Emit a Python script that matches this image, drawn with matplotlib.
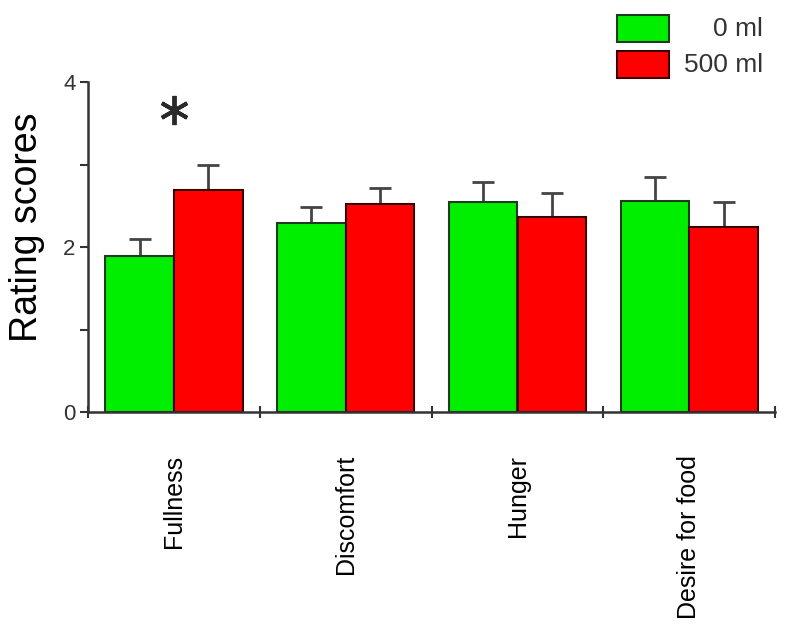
import matplotlib.pyplot as plt
from matplotlib.patches import Rectangle
import numpy as np

plt.rcParams['font.family'] = ['Liberation Sans', 'DejaVu Sans']

# data
categories = ['Fullness', 'Discomfort', 'Hunger', 'Desire for food']
vol_0 = [1.89, 2.29, 2.55, 2.56]
vol_0_err = [0.21, 0.19, 0.24, 0.29]
vol_500 = [2.69, 2.52, 2.36, 2.24]
vol_500_err = [0.30, 0.19, 0.29, 0.31]
labels = ['0 ml', '500 ml']
green = '#00ee00'
red = '#ff0000'
edges = ['#1f3a1f', '#3a0000']

fig = plt.figure(figsize=(8, 6.36), dpi=100)
ax = fig.add_axes([0.11, 0.352, 0.859, 0.519])

x = np.arange(len(categories)) + 0.5
w = 0.4
ax.bar(x - w / 2, vol_0, w, color=green, edgecolor=edges[0], linewidth=1.5, zorder=2)
ax.bar(x + w / 2, vol_500, w, color=red, edgecolor=edges[1], linewidth=1.5, zorder=2)
ax.errorbar(x - w / 2, vol_0, yerr=[np.zeros(4), vol_0_err], fmt='none',
            ecolor='#444444', elinewidth=2, capsize=8, capthick=2, zorder=1)
ax.errorbar(x + w / 2, vol_500, yerr=[np.zeros(4), vol_500_err], fmt='none',
            ecolor='#444444', elinewidth=2, capsize=8, capthick=2, zorder=1)

# significance mark above the Fullness pair
ax.plot(x[0], vol_500[0] + vol_500_err[0] + 0.67, marker=(6, 2, 0), markersize=21,
        markeredgewidth=2.8, color='#2a2a2a', clip_on=False)

ax.set_xlim(0, 4)
ax.set_ylim(0, 4)
for s in ['top', 'right']:
    ax.spines[s].set_visible(False)
for s in ['left', 'bottom']:
    ax.spines[s].set_linewidth(1.8)
    ax.spines[s].set_color('#333333')

ax.set_yticks([0, 2, 4])
ax.set_yticks([1, 3], minor=True)
ax.tick_params(axis='y', which='both', direction='out', length=6, width=1.5,
               color='#333333', labelsize=16, pad=3, labelcolor='#333333')

ax.set_xticks(x)
ax.set_xticklabels(categories, rotation=90, fontsize=18)
ax.set_xticks(np.arange(5), minor=True)
ax.tick_params(axis='x', which='major', length=0, pad=31)
ax.tick_params(axis='x', which='minor', direction='inout', length=8, width=1.5, color='#333333')

ax.set_ylabel('Rating scores', fontsize=27)
ax.yaxis.set_label_coords(-0.063, 0.56)

# legend drawn in figure coords
for i, (lab, col, ec) in enumerate(zip(labels, [green, red], edges)):
    y0 = 1 - (15 + 36 * i + 27) / 636
    fig.add_artist(Rectangle((617 / 800, y0), 52 / 800, 27 / 636, transform=fig.transFigure,
                             facecolor=col, edgecolor=ec, linewidth=1.5))
    fig.text(763 / 800, y0 + 13 / 636, lab, ha='right', va='center', fontsize=19, color='#333333')

fig.savefig('out.png', dpi=100)
